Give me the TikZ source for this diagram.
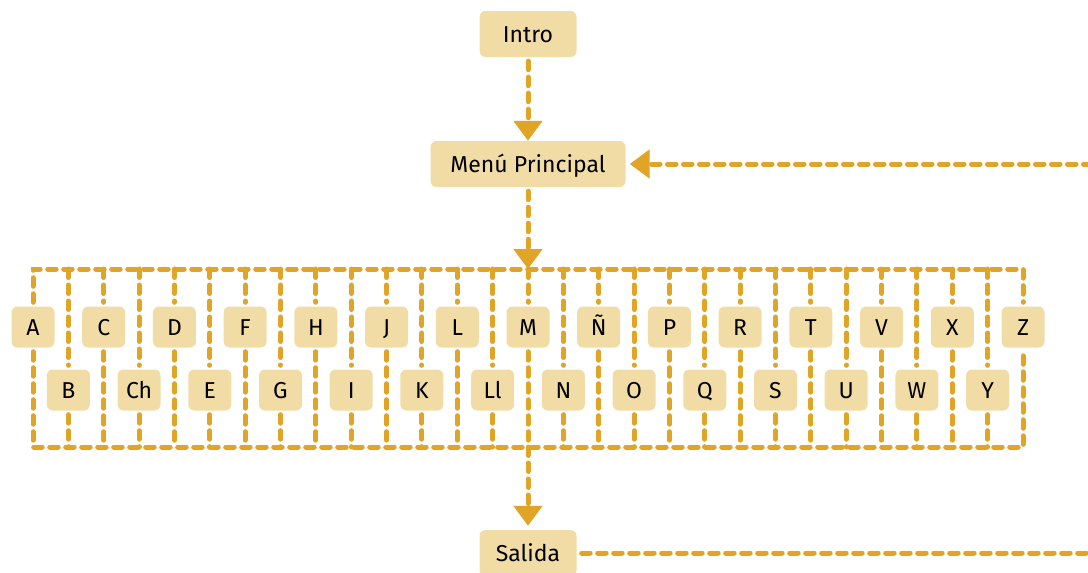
\documentclass[tikz,border=0pt]{standalone}
\usepackage{fontspec}
\setmainfont{Fira Sans}
\usetikzlibrary{arrows.meta}
\definecolor{boxc}{HTML}{F2DCA6}
\definecolor{linec}{HTML}{E0A526}
\tikzset{
 box/.style={fill=boxc, rounded corners=6pt, inner sep=0pt, font=\fontsize{23}{26}\selectfont, text=black, text height=16pt, text depth=0pt},
 lbox/.style={box, minimum width=43pt, minimum height=41pt},
 bigbox/.style={box, minimum height=46pt},
 conn/.style={draw=linec, line width=5pt, line cap=round, dash pattern=on 8.5pt off 7.5pt},
 arr/.style={conn, -{Triangle[length=20pt,width=28pt]}},
}
\begin{document}
\begin{tikzpicture}[x=1pt,y=-1pt]
\useasboundingbox (0,0) rectangle (1088,573);
\clip (0,0) rectangle (1088,573);
\node[bigbox, minimum width=97pt] (intro) at (528,34) {Intro};
\node[bigbox, minimum width=195pt] (menu) at (528,164) {Menú Principal};
\node[bigbox, minimum width=97pt] (salida) at (528,553) {Salida};
\coordinate (bt) at (528,269);
\coordinate (bb) at (528,447);
\coordinate (re1) at (1092,164);
\coordinate (re2) at (1092,553);
\foreach \t [count=\i from 0] in {A,B,C,Ch,D,E,F,G,H,I,J,K,L,Ll,M,N,Ñ,O,P,Q,R,S,T,U,V,W,X,Y,Z}{
  \pgfmathsetmacro{\xx}{33+35.357*\i}
  \pgfmathtruncatemacro{\odd}{mod(\i,2)}
  \ifnum\odd=0
    \node[lbox] (L\i) at (\xx,327) {\t};
  \else
    \node[lbox] (L\i) at (\xx,390) {\t};
  \fi
}
% buses
\draw[conn, shorten <=4pt, shorten >=4pt] (L0.north) -- (L0.north |- bt) -- (L28.north |- bt) -- (L28.north);
\draw[conn, shorten <=4pt, shorten >=4pt] (L0.south) -- (L0.south |- bb) -- (L28.south |- bb) -- (L28.south);
\foreach \i in {1,...,27}{
  \draw[conn, shorten >=4pt] (L\i.north |- bt) -- (L\i.north);
  \draw[conn, shorten <=4pt] (L\i.south) -- (L\i.south |- bb);
}
% arrows
\draw[arr, shorten <=4pt] (intro.south) -- (menu.north);
\draw[arr, shorten <=4pt] (menu.south) -- (bt);
\draw[arr, shorten >=4pt] (bb) -- (salida.north);
\draw[arr, shorten >=4pt] (re1) -- (menu.east);
\draw[conn, shorten <=5pt] (salida.east) -- (re2);
\end{tikzpicture}
\end{document}
